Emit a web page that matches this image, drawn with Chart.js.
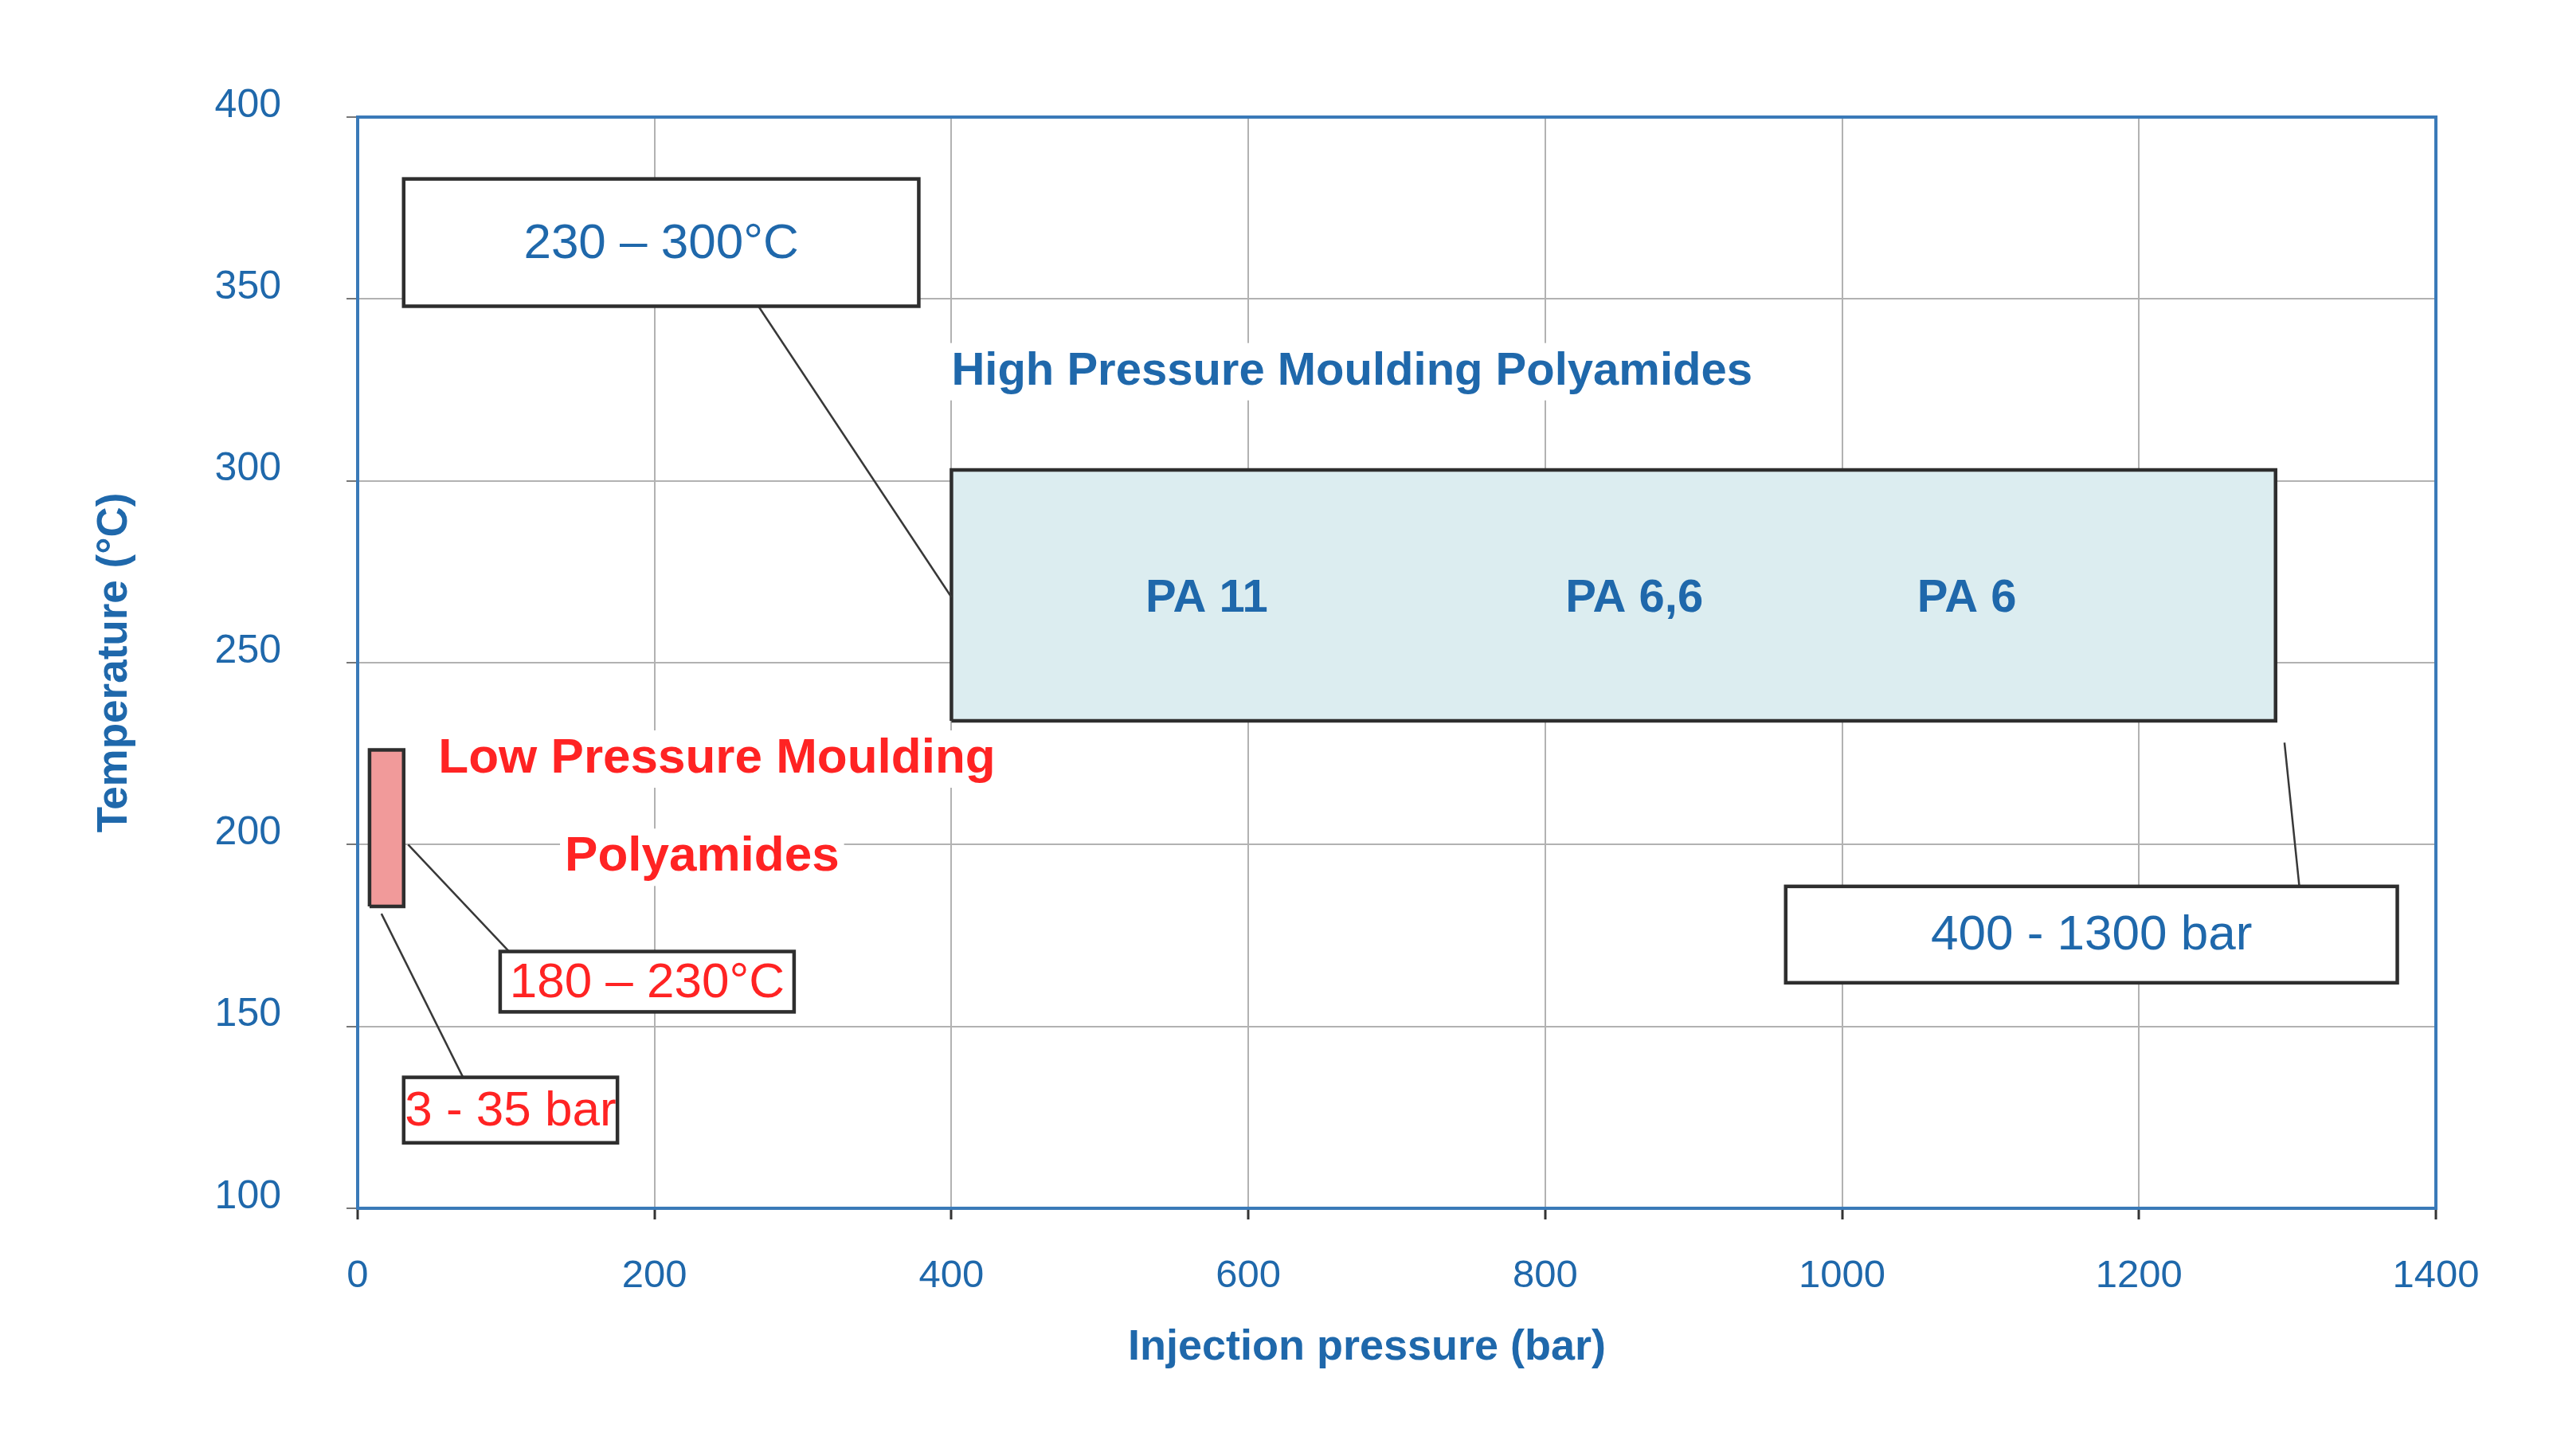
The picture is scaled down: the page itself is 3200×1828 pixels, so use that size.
<!DOCTYPE html>
<html>
<head>
<meta charset="utf-8">
<script src="https://cdn.jsdelivr.net/npm/chart.js@4/dist/chart.umd.min.js"></script>
<style>
  body { margin: 0; background: #fff; }
  #wrap { width: 3200px; height: 1828px; position: relative; }
</style>
</head>
<body>
<div id="wrap"><canvas id="pressureChart"></canvas></div>
<script>
// axis ranges / ticks
var pressureTicks = [0, 200, 400, 600, 800, 1000, 1200, 1400];
var tempTicks = [100, 150, 200, 250, 300, 350, 400];

// moulding windows (bar, °C)
var highPressure = [400, 1292];
var highTemp = [234, 303];
var lowPressure = [8, 31];
var lowTemp = [183, 226];

var materials = ['PA 11', 'PA 6,6', 'PA 6'];
var rangeLabels = ['230 – 300°C', '400 - 1300 bar', '180 – 230°C', '3 - 35 bar'];

var FONT = "'Liberation Sans', Arial, sans-serif";
var BLUE = '#1f68ab';
var RED = '#ff2323';
var AXIS = '#3a7ab8';
var DARK = '#383838';

// closed outline of a range box, in axis units
function box(xs, ys) {
    return [
        { x: xs[0], y: ys[0] }, { x: xs[1], y: ys[0] },
        { x: xs[1], y: ys[1] }, { x: xs[0], y: ys[1] },
        { x: xs[0], y: ys[0] }
    ];
}

// callout placement (axis units), kept apart from the data
var callouts = [
    { text: rangeLabels[0], color: BLUE, x: [31, 378], y: [348, 383], from: [270, 348], to: [400, 268] },
    { text: rangeLabels[1], color: BLUE, x: [962, 1374], y: [162, 188.5], from: [1308, 188.5], to: [1298, 228] },
    { text: rangeLabels[2], color: RED, x: [96, 294], y: [154, 170.6], from: [102, 170.6], to: [34, 200] },
    { text: rangeLabels[3], color: RED, x: [31, 175], y: [118, 136], from: [71, 136], to: [16, 181] }
];
var labels = [
    { text: 'High Pressure Moulding Polyamides', color: BLUE, x: 400, y: 330, align: 'left', bg: true },
    { text: materials[0], color: BLUE, x: 572, y: 267.5, align: 'center' },
    { text: materials[1], color: BLUE, x: 860, y: 267.5, align: 'center' },
    { text: materials[2], color: BLUE, x: 1084, y: 267.5, align: 'center' },
    { text: 'Low Pressure Moulding', color: RED, x: 242, y: 223.5, align: 'center', bg: true },
    { text: 'Polyamides', color: RED, x: 232, y: 196.5, align: 'center', bg: true }
];

var annotationPlugin = {
    id: 'annotations',
    afterDatasetsDraw: function (chart) {
        var ctx = chart.ctx;
        var xs = chart.scales.x, ys = chart.scales.y;
        var a = chart.chartArea;
        ctx.save();

        // plot frame
        ctx.strokeStyle = AXIS;
        ctx.lineWidth = 4;
        ctx.strokeRect(a.left, a.top, a.right - a.left, a.bottom - a.top);

        // free text
        labels.forEach(function (l) {
            ctx.font = 'bold 58px ' + FONT;
            if (l.color === RED) ctx.font = 'bold 62px ' + FONT;
            ctx.textBaseline = 'middle';
            ctx.textAlign = l.align;
            var px = xs.getPixelForValue(l.x), py = ys.getPixelForValue(l.y);
            if (l.bg) {
                var w = ctx.measureText(l.text).width;
                var left = l.align === 'left' ? px : px - w / 2;
                ctx.fillStyle = '#fff';
                ctx.fillRect(left - 6, py - 36, w + 12, 72);
            }
            ctx.fillStyle = l.color;
            ctx.fillText(l.text, px, py);
        });

        // callout boxes with leader lines
        callouts.forEach(function (c) {
            ctx.strokeStyle = DARK;
            ctx.lineWidth = 2.5;
            ctx.beginPath();
            ctx.moveTo(xs.getPixelForValue(c.from[0]), ys.getPixelForValue(c.from[1]));
            ctx.lineTo(xs.getPixelForValue(c.to[0]), ys.getPixelForValue(c.to[1]));
            ctx.stroke();

            var x0 = xs.getPixelForValue(c.x[0]), x1 = xs.getPixelForValue(c.x[1]);
            var y0 = ys.getPixelForValue(c.y[1]), y1 = ys.getPixelForValue(c.y[0]);
            ctx.fillStyle = '#fff';
            ctx.fillRect(x0, y0, x1 - x0, y1 - y0);
            ctx.lineWidth = 4.5;
            ctx.strokeStyle = '#2e2e2e';
            ctx.strokeRect(x0, y0, x1 - x0, y1 - y0);

            ctx.font = '62px ' + FONT;
            ctx.textAlign = 'center';
            ctx.textBaseline = 'middle';
            ctx.fillStyle = c.color;
            ctx.fillText(c.text, (x0 + x1) / 2, (y0 + y1) / 2 + 2);
        });
        ctx.restore();
    }
};

var ctx = document.getElementById('pressureChart').getContext('2d');
new Chart(ctx, {
    type: 'scatter',
    data: {
        datasets: [{
            label: 'High pressure moulding',
            data: box(highPressure, highTemp),
            showLine: true,
            fill: 'shape',
            backgroundColor: '#dcedf0',
            borderColor: '#2e2e2e',
            borderWidth: 4.5,
            pointRadius: 0,
            tension: 0
        }, {
            label: 'Low pressure moulding',
            data: box(lowPressure, lowTemp),
            showLine: true,
            fill: 'shape',
            backgroundColor: '#f19a9a',
            borderColor: '#2e2e2e',
            borderWidth: 4.5,
            pointRadius: 0,
            tension: 0
        }]
    },
    options: {
        responsive: true,
        maintainAspectRatio: false,
        animation: false,
        layout: { padding: { left: 0, right: 142, top: 147, bottom: 0 } },
        plugins: {
            legend: { display: false },
            tooltip: { enabled: false }
        },
        scales: {
            x: {
                type: 'linear',
                min: pressureTicks[0],
                max: pressureTicks[pressureTicks.length - 1],
                afterBuildTicks: function (scale) {
                    scale.ticks = pressureTicks.map(function (v) { return { value: v }; });
                },
                afterFit: function (scale) { scale.height = 311; },
                grid: { color: '#b2b2b2', lineWidth: 2, tickLength: 14, tickColor: '#333', tickWidth: 3 },
                border: { display: false },
                ticks: {
                    color: BLUE,
                    font: { family: FONT, size: 49 },
                    padding: 42,
                    callback: function (v) { return String(v); }
                },
                title: {
                    display: true,
                    // trailing spaces nudge the centred title left, as in the original
                    text: 'Injection pressure (bar)\u00a0\u00a0\u00a0\u00a0\u00a0',
                    color: BLUE,
                    font: { family: FONT, size: 54, weight: 'bold' },
                    padding: { top: 103, bottom: 103 }
                }
            },
            y: {
                type: 'linear',
                min: tempTicks[0],
                max: tempTicks[tempTicks.length - 1],
                afterBuildTicks: function (scale) {
                    scale.ticks = tempTicks.map(function (v) { return { value: v }; });
                },
                afterFit: function (scale) { scale.width = 449; },
                grid: { color: '#b2b2b2', lineWidth: 2, tickLength: 14, tickColor: '#777' },
                border: { display: false },
                ticks: {
                    color: BLUE,
                    font: { family: FONT, size: 50 },
                    padding: 82,
                    labelOffset: -14,
                    callback: function (v) { return String(v); }
                },
                title: {
                    display: true,
                    text: 'Temperature (°C)',
                    color: BLUE,
                    font: { family: FONT, size: 53, weight: 'bold' },
                    padding: { top: 113, bottom: 113 }
                }
            }
        }
    },
    plugins: [annotationPlugin]
});
</script>
</body>
</html>
